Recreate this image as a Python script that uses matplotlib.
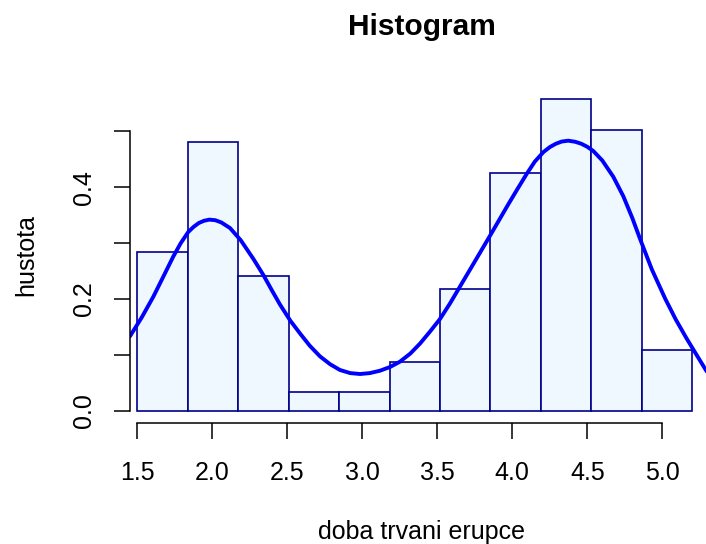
import numpy as np
import matplotlib
matplotlib.use("Agg")
import matplotlib.pyplot as plt
from matplotlib.ticker import FixedLocator, FixedFormatter

plt.rcParams['font.family'] = ['Liberation Sans', 'DejaVu Sans']

# ---- data ----
break_start = 1.5
break_end = 5.2
n_bins = 11
counts = [26, 44, 22, 3, 3, 8, 20, 39, 51, 46, 10]
n_obs = 272

curve_x = [1.451, 1.53, 1.607, 1.67, 1.74, 1.79, 1.84, 1.875, 1.91, 1.945, 1.98,
           2.02, 2.06, 2.118, 2.19, 2.273, 2.34, 2.40, 2.451, 2.52, 2.585, 2.65,
           2.718, 2.785, 2.851, 2.92, 2.985, 3.05, 3.118, 3.185, 3.251, 3.32,
           3.385, 3.45, 3.518, 3.585, 3.651, 3.75, 3.851, 3.97, 4.03, 4.096,
           4.15, 4.207, 4.25, 4.29, 4.33, 4.373, 4.42, 4.46, 4.50, 4.54, 4.60,
           4.673, 4.74, 4.80, 4.851, 4.93, 5.02, 5.09, 5.16, 5.23, 5.29, 5.34]
curve_y = [0.133, 0.167, 0.204, 0.238, 0.276, 0.300, 0.320, 0.329, 0.336, 0.340,
           0.342, 0.341, 0.337, 0.327, 0.305, 0.272, 0.243, 0.214, 0.190, 0.161,
           0.138, 0.116, 0.097, 0.083, 0.0726, 0.067, 0.0654, 0.067, 0.0713,
           0.078, 0.0875, 0.102, 0.120, 0.141, 0.164, 0.192, 0.222, 0.267, 0.313,
           0.368, 0.395, 0.424, 0.446, 0.463, 0.472, 0.478, 0.482, 0.4835, 0.4815,
           0.478, 0.4725, 0.465, 0.448, 0.419, 0.384, 0.345, 0.308, 0.253, 0.200,
           0.163, 0.130, 0.099, 0.0726, 0.052]

x_ticks = [1.5, 2.0, 2.5, 3.0, 3.5, 4.0, 4.5, 5.0]
x_tick_labels = ["1.5", "2.0", "2.5", "3.0", "3.5", "4.0", "4.5", "5.0"]
y_ticks = [0.0, 0.1, 0.2, 0.3, 0.4, 0.5]
y_tick_labels = ["0.0", "", "0.2", "", "0.4", ""]

title = "Histogram"
xlabel = "doba trvani erupce"
ylabel = "hustota"

# ---- figure ----
W, H = 706, 544
fig = plt.figure(figsize=(W / 100, H / 100), dpi=100)
ax = fig.add_axes([130 / W, (H - 422.7) / H, (713 - 130) / W, (422.7 - 87) / H])

edges = np.linspace(break_start, break_end, n_bins + 1)
widths = np.diff(edges)
density = np.array(counts) / (n_obs * widths)

ax.bar(edges[:-1], density, width=widths, align='edge',
       facecolor='#F0F8FF', edgecolor='#00008B', linewidth=1.2)
ax.plot(curve_x, curve_y, color='#0000FF', linewidth=2.8,
        solid_joinstyle='round', solid_capstyle='round')

ax.set_xlim(1.45133, 5.338)
ax.set_ylim(-0.02186, 0.5797)

for s in ['top', 'right']:
    ax.spines[s].set_visible(False)
ax.spines['left'].set_bounds(0, 0.5)
ax.spines['bottom'].set_bounds(1.5, 5.0)
for s in ['left', 'bottom']:
    ax.spines[s].set_linewidth(1.1)

ax.xaxis.set_major_locator(FixedLocator(x_ticks))
ax.xaxis.set_major_formatter(FixedFormatter(x_tick_labels))
ax.yaxis.set_major_locator(FixedLocator(y_ticks))
ax.yaxis.set_major_formatter(FixedFormatter(y_tick_labels))

ax.tick_params(axis='both', direction='out', length=11.2, width=1.1, labelsize=18)
ax.tick_params(axis='x', pad=16.5)
ax.tick_params(axis='y', pad=13.0, labelrotation=90)
for lab in ax.get_yticklabels():
    lab.set_va('center')

fig.text(421.7 / W, 1 - 35 / H, title, fontsize=21.5, fontweight='bold',
         ha='center', va='baseline')
fig.text(422 / W, 1 - 539.3 / H, xlabel, fontsize=18, ha='center', va='baseline')
fig.text(33.3 / W, 1 - 255 / H, ylabel, fontsize=18, rotation=90,
         rotation_mode='anchor', ha='center', va='baseline')

fig.savefig("out.png", dpi=100)
